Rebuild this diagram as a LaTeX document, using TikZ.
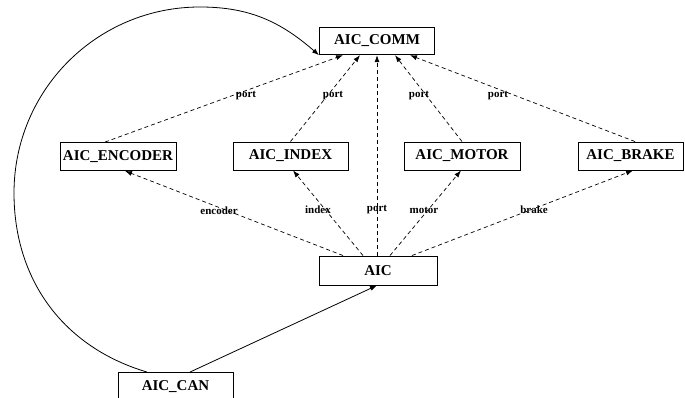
\documentclass[tikz,border=0pt]{standalone}
\usepackage{fontspec}
\setmainfont{Liberation Serif}
\usetikzlibrary{arrows.meta}
\tikzset{
  box/.style={draw, line width=0.9pt, rectangle, inner sep=0pt, minimum height=28pt,
              font=\fontsize{15}{16}\selectfont\bfseries},
  dep/.style={dashed, dash pattern=on 4pt off 3pt, line width=0.7pt, -{Latex[length=7pt,width=5pt]}},
  solidarr/.style={line width=0.8pt, -{Latex[length=7pt,width=5pt]}},
  lbl/.style={font=\fontsize{11}{12}\selectfont\bfseries, inner sep=0pt}
}
\begin{document}
\begin{tikzpicture}[x=1pt,y=1pt]
\useasboundingbox (0,0) rectangle (685,398);
% nodes
\node[box, minimum width=115pt, minimum height=27.5pt] (comm) at (377,357) {AIC\_COMM};
\node[box, minimum width=116pt] (enc) at (118,241.5) {AIC\_ENCODER};
\node[box, minimum width=115pt] (idx) at (290.5,242) {AIC\_INDEX};
\node[box, minimum width=116pt] (mot) at (462,242) {AIC\_MOTOR};
\node[box, minimum width=105pt] (brk) at (630.5,242) {AIC\_BRAKE};
\node[box, minimum width=118pt, minimum height=29pt] (aic) at (378,127.5) {AIC};
\node[box, minimum width=115pt] (can) at (175.5,11.5) {AIC\_CAN};
% helper coordinates for the loop
\coordinate (loopW) at (14,205);
\coordinate (loopN) at (200,391);
% AIC -> components
\draw[dep] ([xshift=-35pt]aic.north) -- ([xshift=7pt]enc.south);
\draw[dep] ([xshift=-15pt]aic.north) -- ([xshift=2.5pt]idx.south);
\draw[dep] (aic.north -| comm) -- (comm.south);
\draw[dep] ([xshift=12pt]aic.north) -- ([xshift=-1pt]mot.south);
\draw[dep] ([xshift=34pt]aic.north) -- ([xshift=2.5pt]brk.south);
% components -> COMM
\draw[dep] ([xshift=-13pt]enc.north) -- ([xshift=-34pt]comm.south);
\draw[dep] (idx.north) -- ([xshift=-17pt]comm.south);
\draw[dep] (mot.north) -- ([xshift=18pt]comm.south);
\draw[dep] ([xshift=4.5pt]brk.north) -- ([xshift=33pt]comm.south);
% CAN connections
\draw[solidarr] ([xshift=14.5pt]can.north) -- ([xshift=-1pt]aic.south);
\draw[solidarr] ([xshift=-28.5pt]can.north) to[out=163.5,in=-90] (loopW)
  to[out=90,in=180] (loopN) to[out=0,in=139] (comm.south west);
% labels
\node[lbl] (lenc) at (219,187) {encoder};
\node[lbl] (lidx) at (318,188) {index};
\node[lbl] (lport) at (377,188) {port};
\node[lbl] (lmot) at (424,188) {motor};
\node[lbl] (lbrk) at (534,188) {brake};
\node[lbl] (p1) at (246,302) {port};
\node[lbl] (p2) at (333,302) {port};
\node[lbl] (p3) at (419,302) {port};
\node[lbl] (p4) at (498,302) {port};
\end{tikzpicture}
\end{document}
